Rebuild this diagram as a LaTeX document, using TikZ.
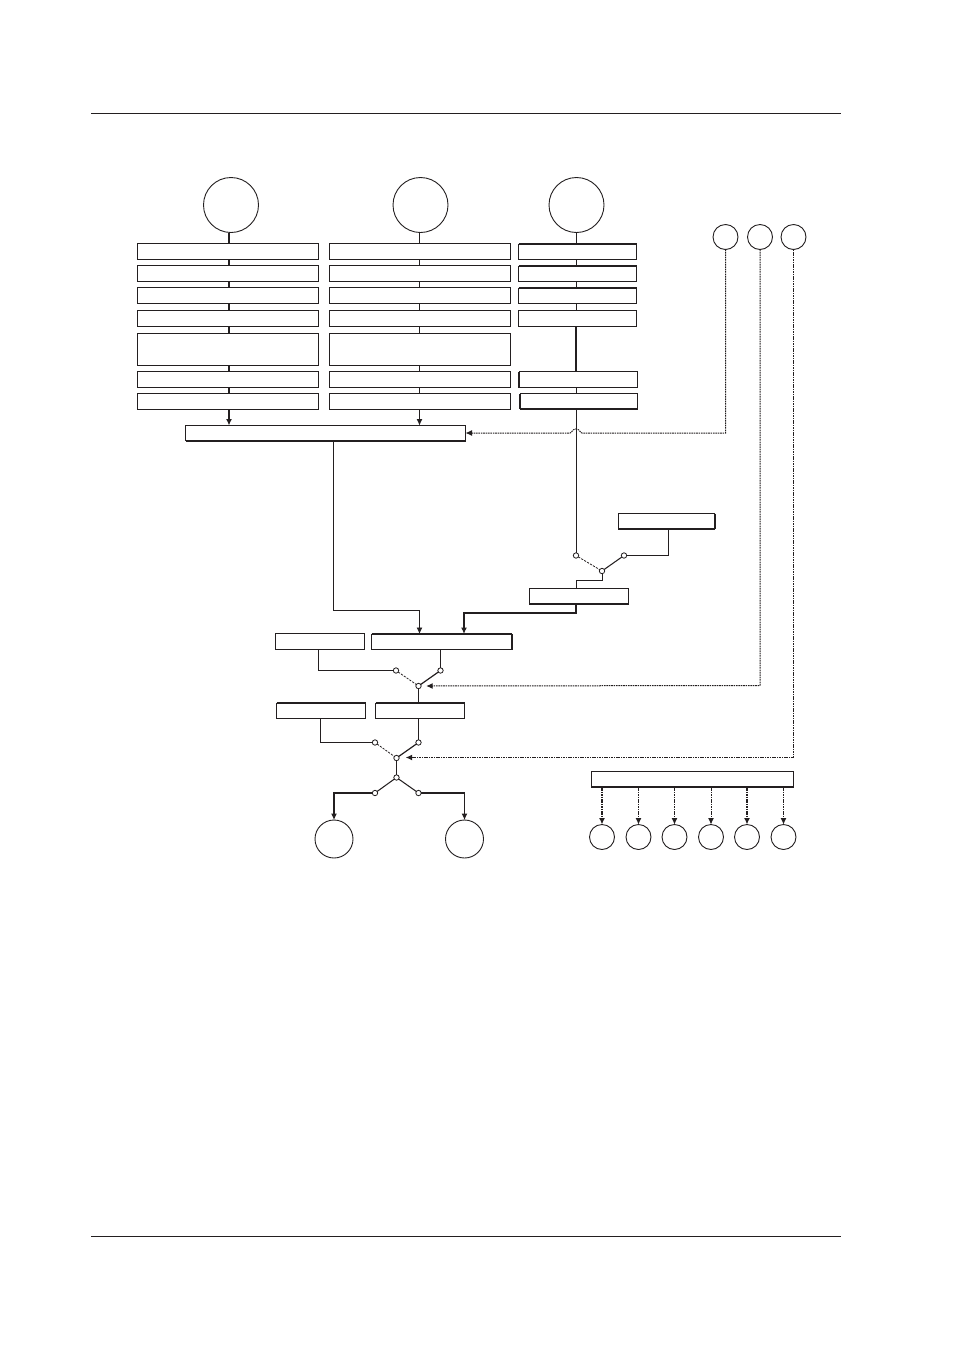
\documentclass[tikz,border=0pt]{standalone}
\usetikzlibrary{arrows.meta,calc}
\definecolor{ink}{HTML}{231F20}
\tikzset{
  box/.style={draw=ink,line width=0.9pt,rectangle,inner sep=0pt,outer sep=0pt,fill=white},
  ring/.style={draw=ink,line width=0.9pt,circle,inner sep=0pt,outer sep=0pt,fill=white},
  pin/.style={draw=ink,line width=0.8pt,circle,inner sep=0pt,outer sep=0pt,fill=white,minimum size=5.4pt},
  wire/.style={draw=ink,line width=0.9pt},
  heavy/.style={draw=ink,line width=1.6pt},
  midwire/.style={draw=ink,line width=1.05pt},
  arrowed/.style={-{Latex[length=6.5pt,width=6pt]}},
  dotline/.style={draw=ink,line width=1pt,dash pattern=on 1.6pt off 0.8pt},
  dotheavy/.style={draw=ink,line width=1.5pt,dash pattern=on 1.6pt off 0.8pt},
  swdash/.style={draw=ink,line width=0.8pt,dash pattern=on 2.2pt off 1.2pt},
  rule/.style={draw=ink,line width=0.9pt},
  edge/.style={draw=ink,line width=2pt}
}
\newcommand{\bx}[5]{\node[box,minimum width={#4-#2},minimum height={#5-#3}] (#1) at ({(#2+#4)/2},{(#3+#5)/2}) {};}
\newcommand{\rg}[4]{\node[ring,minimum size={2*#4}] (#1) at (#2,#3) {};}
\newcommand{\pn}[3]{\node[pin] (#1) at (#2,#3) {};}
\begin{document}
\begin{tikzpicture}[x=1pt,y=-1pt]
\useasboundingbox (0,0) rectangle (954,1350);
% page rules
\coordinate (rl) at (91,113.5); \coordinate (rr) at (841,113.5);
\coordinate (bl) at (91,1236.5); \coordinate (br) at (841,1236.5);
\draw[rule] (rl) -- (rr);
\draw[rule] (bl) -- (br);
% vertical guide coordinates
\coordinate (xa) at (229,0); \coordinate (xb) at (419.5,0); \coordinate (xc) at (576,0);
% circles
\rg{ca}{231}{205}{27.5}
\rg{cb}{420.5}{205}{27.5}
\rg{cc}{576.5}{205}{27.5}
% column 1
\bx{a1}{137.5}{243.5}{318.5}{259.5}
\bx{a2}{137.5}{265.5}{318.5}{281.5}
\bx{a3}{137.5}{287.5}{318.5}{303.5}
\bx{a4}{137.5}{310.5}{318.5}{326.5}
\bx{a5}{137.5}{333.5}{318.5}{365.5}
\bx{a6}{137.5}{371.5}{318.5}{387.5}
\bx{a7}{137.5}{393.5}{318.5}{409.5}
% column 2
\bx{b1}{329.5}{243.5}{510.5}{259.5}
\bx{b2}{329.5}{265.5}{510.5}{281.5}
\bx{b3}{329.5}{287.5}{510.5}{303.5}
\bx{b4}{329.5}{310.5}{510.5}{326.5}
\bx{b5}{329.5}{333.5}{510.5}{365.5}
\bx{b6}{329.5}{371.5}{510.5}{387.5}
\bx{b7}{329.5}{393.5}{510.5}{409.5}
% column 3
\bx{d1}{518.5}{244}{636.5}{259.5}
\bx{d2}{518.5}{266}{636.5}{281.5}
\bx{d3}{518.5}{288}{636.5}{303.5}
\bx{d4}{518.5}{310.5}{636.5}{326.5}
\bx{d6}{519}{371.5}{637.5}{387.5}
\bx{d7}{520}{393.5}{637.5}{409}
\draw[edge] (d1.north west) -- (d1.north east);
\draw[edge] (d2.north west) -- (d2.north east);
\draw[edge] (d3.north west) -- (d3.north east);
\draw[edge] (d6.north west) -- (d6.south west);
\draw[edge] (d7.north west) -- (d7.south west);
\draw[edge] (d7.south west) -- (d7.south east);
% merge box
\bx{m}{185.5}{425.5}{465.5}{440.5}
\draw[edge] (m.south west) -- (m.south east);
% column links
\draw[heavy] (ca.south -| xa) -- (a1.north -| xa);
\draw[heavy] (a1.south -| xa) -- (a2.north -| xa);
\draw[heavy] (a2.south -| xa) -- (a3.north -| xa);
\draw[heavy] (a3.south -| xa) -- (a4.north -| xa);
\draw[heavy] (a4.south -| xa) -- (a5.north -| xa);
\draw[heavy] (a5.south -| xa) -- (a6.north -| xa);
\draw[heavy] (a6.south -| xa) -- (a7.north -| xa);
\draw[heavy,arrowed] (a7.south -| xa) -- (m.north -| xa);
\draw[wire] (cb.south -| xb) -- (b1.north -| xb);
\draw[wire] (b1.south -| xb) -- (b2.north -| xb);
\draw[wire] (b2.south -| xb) -- (b3.north -| xb);
\draw[wire] (b3.south -| xb) -- (b4.north -| xb);
\draw[wire] (b4.south -| xb) -- (b5.north -| xb);
\draw[wire] (b5.south -| xb) -- (b6.north -| xb);
\draw[wire] (b6.south -| xb) -- (b7.north -| xb);
\draw[wire,arrowed] (b7.south -| xb) -- (m.north -| xb);
\draw[wire] (cc.south -| xc) -- (d1.north -| xc);
\draw[wire] (d1.south -| xc) -- (d2.north -| xc);
\draw[wire] (d2.south -| xc) -- (d3.north -| xc);
\draw[wire] (d3.south -| xc) -- (d4.north -| xc);
\draw[heavy] (d4.south -| xc) -- (d6.north -| xc);
\draw[wire] (d6.south -| xc) -- (d7.north -| xc);
% small circles top right
\rg{s1}{725.5}{237}{12.5}
\rg{s2}{760}{237}{12.5}
\rg{s3}{793.5}{237}{12.5}
% switch 1
\bx{r1}{618.5}{513.5}{714.5}{529}
\draw[edge] (r1.south west) -- (r1.south east);
\draw[edge] (r1.north east) -- (r1.south east);
\bx{r2}{529.5}{588.5}{628.5}{604}
\draw[edge] (r2.south west) -- (r2.south east);
\pn{p1a}{576}{555.5}
\pn{p1b}{624}{555.5}
\pn{p1c}{602}{571}
\draw[wire] (d7.south -| xc) -- (p1a.north);
\draw[wire] (r1.south -| 668.5,0) -- (668.5,555.5) -- (p1b.east);
\draw[swdash] (p1a) -- (p1c);
\draw[midwire] (p1b) -- (p1c);
\draw[wire] (p1c.south) -- (602,580.5) -- (576,580.5) -- (r2.north -| xc);
% center boxes
\bx{l1}{275.5}{633.5}{364.5}{649.5}
\bx{mm}{371.5}{634}{512}{649.5}
\draw[edge] (mm.north west) -- (mm.north east);
\draw[edge] (mm.north east) -- (mm.south east);
\draw[wire,arrowed] (m.south -| 333.5,0) -- (333.5,610) -- (419.5,610) -- (mm.north -| xb);
\draw[heavy,arrowed] (r2.south -| xc) -- (576,613) -- (464,613) -- (mm.north -| 464,0);
% switch 2
\pn{p2a}{396}{670.5}
\pn{p2b}{440.5}{670.5}
\pn{p2c}{418.5}{686}
\bx{n1}{276.5}{703}{365.5}{718.5}
\bx{n2}{375.5}{703}{464.5}{718.5}
\draw[edge] (n1.north west) -- (n1.north east);
\draw[edge] (n2.north west) -- (n2.north east);
\draw[wire] (l1.south -| 318.5,0) -- (318.5,670.5) -- (p2a.west);
\draw[wire] (mm.south -| p2b) -- (p2b.north);
\draw[swdash] (p2a) -- (p2c);
\draw[midwire,line width=1.2pt] (p2b) -- (p2c);
\draw[wire] (p2c.south) -- (n2.north -| p2c);
% switch 3
\pn{p3a}{375}{742.5}
\pn{p3b}{418.5}{742.5}
\pn{p3c}{396.5}{758}
\pn{p3d}{396.5}{777.5}
\pn{p3e}{375}{793}
\pn{p3f}{418.5}{793}
\draw[wire] (n1.south -| 320,0) -- (320,742.5) -- (p3a.west);
\draw[wire] (n2.south -| p3b) -- (p3b.north);
\draw[swdash] (p3a) -- (p3c);
\draw[midwire,line width=1.2pt] (p3b) -- (p3c);
\draw[midwire,line width=1.3pt] (p3c.south) -- (p3d.north);
\draw[midwire] (p3d) -- (p3e);
\draw[midwire] (p3d) -- (p3f);
\rg{o1}{334}{839}{19}
\rg{o2}{464.5}{839}{19}
\draw[midwire,arrowed] (p3e.west) -- (334,793) -- (o1.north);
\draw[midwire,arrowed] (p3f.east) -- (464.5,793) -- (o2.north);
% dotted control lines
\coordinate (h0) at (725.5,433);
\coordinate (h1) at (582,433);
\coordinate (h2) at (570,433);
\draw[dotline,arrowed] (s1.south) -- (h0) -- (h1) .. controls (580,433) and (580,429) .. (576,429) .. controls (572,429) and (572,433) .. (h2) -- (m.east);
\draw[dotline,arrowed] (s2.south) -- (760,685.5) -- ($(p2c.east)+(5,0)$);
\draw[dotline,arrowed] (s3.south) -- (793.5,757.5) -- ($(p3c.east)+(6.5,-0.5)$);
% bottom right
\bx{t}{591.5}{771.5}{793.5}{787}
\draw[edge] (t.south west) -- (t.south east);
\rg{u1}{602}{837}{12.5}
\rg{u2}{638.5}{837}{12.5}
\rg{u3}{674.5}{837}{12.5}
\rg{u4}{711}{837}{12.5}
\rg{u5}{747}{837}{12.5}
\rg{u6}{783.5}{837}{12.5}
\draw[dotheavy,arrowed] (t.south -| u1) -- (u1.north);
\draw[dotline,arrowed] (t.south -| u2) -- (u2.north);
\draw[dotline,arrowed] (t.south -| u3) -- (u3.north);
\draw[dotline,arrowed] (t.south -| u4) -- (u4.north);
\draw[dotheavy,arrowed] (t.south -| u5) -- (u5.north);
\draw[dotline,arrowed] (t.south -| u6) -- (u6.north);
\end{tikzpicture}
\end{document}
